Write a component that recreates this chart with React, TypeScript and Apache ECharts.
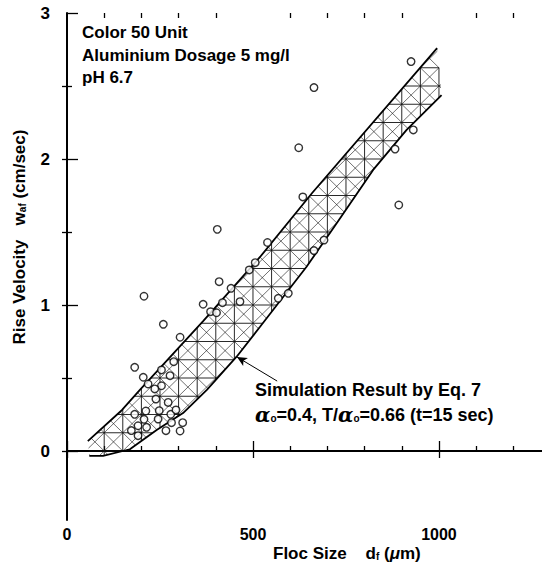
import { useEffect, useRef } from 'react';
import * as echarts from 'echarts';

// Axis ticks / labels
const xTickMajor = [0, 500, 1000];
const xTickMinor = [100, 200, 300, 400, 600, 700, 800, 900, 1100, 1200];
const yTickMajor = [0, 1, 2, 3];
const yTickMinor = [0.5, 1.5, 2.5];
const yTickRight = [0, 0.5, 1, 1.5, 2, 2.5];

// Measured flocs: size (µm) and rise velocity (cm/sec)
const flocSize = [173, 191, 191, 214, 207, 245, 266, 304, 281, 311, 182, 212, 248, 279, 293, 239, 272, 218, 254, 236, 205, 277, 254, 182, 287, 304, 259, 207, 366, 386, 402, 418, 465, 441, 409, 404, 490, 506, 539, 568, 595, 664, 691, 634, 623, 664, 882, 931, 892, 925];
const riseVelocity = [0.14, 0.105, 0.173, 0.162, 0.217, 0.219, 0.139, 0.137, 0.194, 0.194, 0.251, 0.274, 0.276, 0.251, 0.281, 0.356, 0.333, 0.459, 0.447, 0.425, 0.505, 0.516, 0.555, 0.573, 0.612, 0.779, 0.868, 1.06, 1.005, 0.954, 0.947, 1.016, 1.023, 1.114, 1.16, 1.518, 1.24, 1.29, 1.428, 1.046, 1.08, 1.373, 1.445, 1.74, 2.077, 2.489, 2.068, 2.199, 1.685, 2.667];

// Simulation band (Eq. 7) upper and lower bounds
const upperSize = [56, 148, 196, 366, 519, 659, 995];
const upperVel = [0.068, 0.281, 0.418, 0.89, 1.329, 1.767, 2.76];
const lowerSize = [60, 97, 169, 241, 312, 376, 456, 519, 644, 725, 823, 913, 1007];
const lowerVel = [-0.034, -0.034, 0.012, 0.144, 0.26, 0.418, 0.646, 0.851, 1.262, 1.56, 1.925, 2.199, 2.438];

// Arrow annotation (data coords): from text to band
const arrowFrom = [565, 0.479];
const arrowTo = [457, 0.644];

const XMAX = 1277;
const YMIN = -0.4726;
const YMAX = 3;
const HATCH_DX = 50;
const HATCH_DY = 0.125;
const FONT = 'Liberation Sans, Arial, sans-serif';

function cross(ax: number, ay: number, bx: number, by: number) {
  return ax * by - ay * bx;
}

function clipLine(p0: number[], d: number[], poly: number[][]) {
  const ts: number[] = [];
  for (let i = 0; i < poly.length; i++) {
    const a = poly[i];
    const b = poly[(i + 1) % poly.length];
    const ex = b[0] - a[0];
    const ey = b[1] - a[1];
    const den = cross(d[0], d[1], ex, ey);
    if (Math.abs(den) < 1e-9) continue;
    const wx = a[0] - p0[0];
    const wy = a[1] - p0[1];
    const t = cross(wx, wy, ex, ey) / den;
    const s = cross(wx, wy, d[0], d[1]) / den;
    if (s >= 0 && s < 1) ts.push(t);
  }
  ts.sort((a, b) => a - b);
  const segs: number[][] = [];
  for (let i = 0; i + 1 < ts.length; i += 2) {
    segs.push([
      p0[0] + d[0] * ts[i], p0[1] + d[1] * ts[i],
      p0[0] + d[0] * ts[i + 1], p0[1] + d[1] * ts[i + 1],
    ]);
  }
  return segs;
}

export default function App() {
  const ref = useRef<HTMLDivElement>(null);
  useEffect(() => {
    document.body.style.margin = '0';
    const chart = echarts.init(ref.current!, null, { renderer: 'svg' });
    const axisBase = { type: 'value', min: 0, max: XMAX, splitLine: { show: false } };
    const yBase = { type: 'value', min: YMIN, max: YMAX, splitLine: { show: false } };
    const tickLine = { color: '#000', width: 1.3 };
    const labelStyle = { color: '#000', fontSize: 17, fontWeight: 'bold', fontFamily: FONT };

    const option: any = {
      animation: false,
      backgroundColor: '#fff',
      grid: { left: 67, right: 0, top: 13, bottom: 43 },
      xAxis: [
        { ...axisBase, position: 'bottom',
          axisLine: { show: true, lineStyle: { color: '#000', width: 2 } },
          axisTick: { show: true, inside: true, length: 10, customValues: xTickMajor, lineStyle: tickLine },
          axisLabel: { show: true, customValues: xTickMajor, margin: 6, formatter: (v: number) => String(v), ...labelStyle, fontSize: 16 } },
        { ...axisBase, position: 'bottom', axisLine: { show: false },
          axisTick: { show: true, inside: true, length: 5, customValues: xTickMinor, lineStyle: tickLine },
          axisLabel: { show: false } },
        { ...axisBase, position: 'top',
          axisLine: { show: true, lineStyle: { color: '#000', width: 1.6 } },
          axisTick: { show: true, inside: true, length: 7, customValues: xTickMajor, lineStyle: tickLine },
          axisLabel: { show: false } },
        { ...axisBase, position: 'top', axisLine: { show: false },
          axisTick: { show: true, inside: true, length: 5, customValues: xTickMinor, lineStyle: tickLine },
          axisLabel: { show: false } },
      ],
      yAxis: [
        { ...yBase, position: 'left',
          axisLine: { show: true, lineStyle: { color: '#000', width: 2 } },
          axisTick: { show: true, inside: true, length: 11, customValues: yTickMajor, lineStyle: tickLine },
          axisLabel: { show: true, customValues: yTickMajor, margin: 17, formatter: (v: number) => String(v), ...labelStyle } },
        { ...yBase, position: 'left', axisLine: { show: false },
          axisTick: { show: true, inside: true, length: 5, customValues: yTickMinor, lineStyle: tickLine },
          axisLabel: { show: false } },
        { ...yBase, position: 'right', axisLine: { show: false },
          axisTick: { show: true, inside: true, length: 5, customValues: yTickRight, lineStyle: tickLine },
          axisLabel: { show: false } },
      ],
      series: [
        {
          type: 'custom',
          silent: true,
          z: 2,
          data: [[0]],
          renderItem: (params: any, api: any) => {
            const up = upperSize.map((x, i) => api.coord([x, upperVel[i]]));
            const lo = lowerSize.map((x, i) => api.coord([x, lowerVel[i]]));
            const poly = up.concat(lo.slice().reverse());
            const o = api.coord([0, 0]);
            const sx = api.coord([HATCH_DX, 0])[0] - o[0];
            const sy = o[1] - api.coord([0, HATCH_DY])[1];
            const us = poly.map((p: number[]) => (p[0] - o[0]) / sx);
            const vs = poly.map((p: number[]) => (o[1] - p[1]) / sy);
            const children: any[] = [];
            const add = (segs: number[][], w: number) => {
              segs.forEach((s) => children.push({
                type: 'line',
                shape: { x1: s[0], y1: s[1], x2: s[2], y2: s[3] },
                style: { stroke: '#111', lineWidth: w },
              }));
            };
            for (let k = Math.ceil(Math.min(...us)); k <= Math.floor(Math.max(...us)); k++) {
              add(clipLine([o[0] + k * sx, 0], [0, 1], poly), 0.9);
            }
            for (let k = Math.ceil(Math.min(...vs)); k <= Math.floor(Math.max(...vs)); k++) {
              add(clipLine([0, o[1] - k * sy], [1, 0], poly), 0.9);
            }
            const diff = us.map((u: number, i: number) => u - vs[i]);
            for (let m = Math.ceil(Math.min(...diff)); m <= Math.floor(Math.max(...diff)); m++) {
              add(clipLine([o[0] + m * sx, o[1]], [sx, -sy], poly), 0.6);
            }
            const sum = us.map((u: number, i: number) => u + vs[i]);
            for (let m = Math.ceil(Math.min(...sum)); m <= Math.floor(Math.max(...sum)); m++) {
              add(clipLine([o[0] + m * sx, o[1]], [sx, sy], poly), 0.6);
            }
            return { type: 'group', children };
          },
        },
        {
          type: 'line', z: 3, symbol: 'none', silent: true,
          data: upperSize.map((x, i) => [x, upperVel[i]]),
          lineStyle: { color: '#000', width: 1.8 },
          markLine: {
            silent: true, symbol: ['none', 'arrow'], symbolSize: [7, 10],
            lineStyle: { color: '#000', width: 1, type: 'solid' },
            label: { show: false },
            data: [[{ coord: arrowFrom }, { coord: arrowTo }]],
          },
        },
        {
          type: 'line', z: 3, symbol: 'none', silent: true,
          data: lowerSize.map((x, i) => [x, lowerVel[i]]),
          lineStyle: { color: '#000', width: 1.8 },
        },
        {
          type: 'scatter', z: 4, symbol: 'circle', symbolSize: 7.5,
          data: flocSize.map((x, i) => [x, riseVelocity[i]]),
          itemStyle: { color: '#fff', borderColor: '#000', borderWidth: 1.4 },
        },
      ],
      graphic: [
        { type: 'text', left: 82, top: 24, style: { text: 'Color 50 Unit', font: `bold 17px ${FONT}`, fill: '#000' } },
        { type: 'text', left: 82, top: 47, style: { text: 'Aluminium Dosage 5 mg/l', font: `bold 17px ${FONT}`, fill: '#000' } },
        { type: 'text', left: 82, top: 69, style: { text: 'pH 6.7', font: `bold 17px ${FONT}`, fill: '#000' } },
        { type: 'text', left: 255, top: 381, style: { text: 'Simulation Result by Eq. 7', font: `bold 18px ${FONT}`, fill: '#000' } },
        { type: 'text', left: 255, top: 405, style: {
          text: '{a|α}{s|o}=0.4, T/{a|α}{s|o}=0.66 (t=15 sec)',
          font: `bold 18px ${FONT}`, fill: '#000',
          rich: {
            a: { fontStyle: 'italic', fontSize: 20, fontWeight: 'bold', fontFamily: 'DejaVu Serif, serif' },
            s: { fontSize: 10, fontWeight: 'bold', fontFamily: FONT, padding: [6, 0, 0, 0] },
          },
        } },
        { type: 'text', left: 273, top: 545, style: {
          text: 'Floc Size    d{s|f} ({m|μ}m)',
          font: `bold 17px ${FONT}`, fill: '#000',
          rich: {
            s: { fontSize: 10, fontWeight: 'bold', fontFamily: FONT, padding: [6, 0, 0, 0] },
            m: { fontSize: 17, fontStyle: 'italic', fontWeight: 'bold', fontFamily: FONT },
          },
        } },
        { type: 'text', x: 19, y: 237, rotation: Math.PI / 2, style: {
          text: 'Rise Velocity   w{s|af} (cm/sec)',
          font: `bold 17px ${FONT}`, fill: '#000', align: 'center', verticalAlign: 'middle',
          rich: {
            s: { fontSize: 10, fontWeight: 'bold', fontFamily: FONT, padding: [6, 0, 0, 0] },
          },
        } },
      ],
    };
    chart.setOption(option);
    return () => chart.dispose();
  }, []);
  return <div ref={ref} style={{ width: 542, height: 563 }} />;
}
